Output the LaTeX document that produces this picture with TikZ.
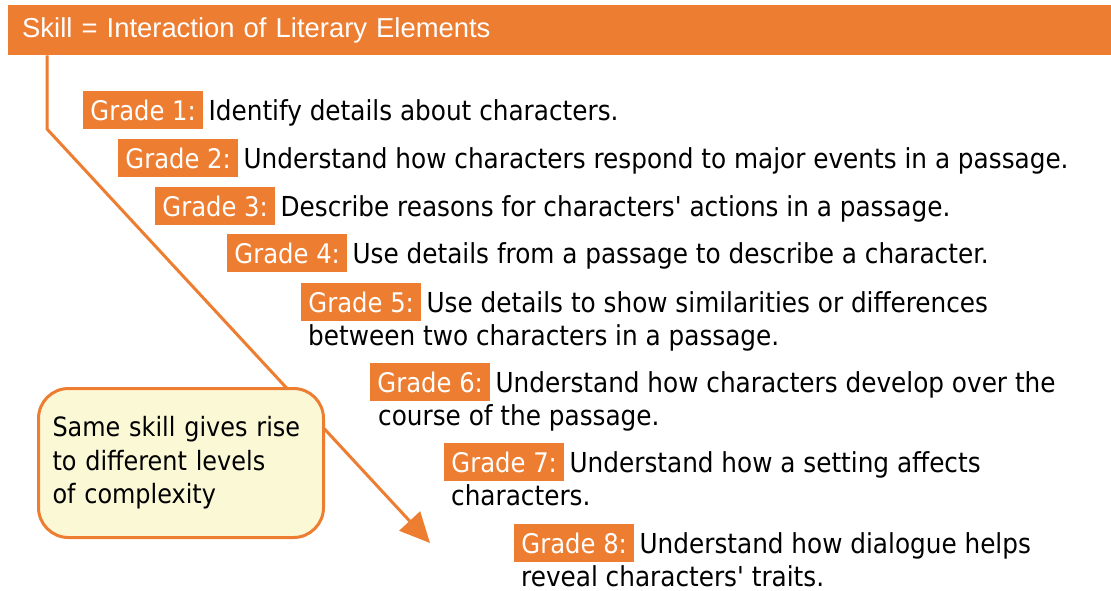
\documentclass[tikz,border=0pt]{standalone}
\usepackage{fontspec}
\setmainfont{DejaVu Sans Condensed}[Ligatures=TeXOff]
\newfontfamily\arialf{Liberation Sans}
\usetikzlibrary{arrows.meta}
\definecolor{org}{HTML}{ED7D31}
\definecolor{cream}{HTML}{FBF8D6}
\begin{document}
\begin{tikzpicture}[x=1pt,y=-1pt,
  gradebox/.style={fill=org, text=white, minimum width=120pt, minimum height=38pt,
    inner sep=0pt, anchor=north west, font=\fontsize{27}{30}\selectfont},
  desc/.style={anchor=base west, inner sep=0pt, font=\fontsize{27.5}{30}\selectfont},
  pointer/.style={draw=org, line width=3pt, line join=miter},
  callout/.style={draw=org, line width=3pt, fill=cream, rounded corners=30pt,
    minimum width=285pt, minimum height=149pt, anchor=north west,
    text width=257pt, inner xsep=14pt, align=left,
    font=\fontsize{26.6}{33.5}\selectfont}]
\useasboundingbox (0,0) rectangle (1111,590);
\node[fill=org, text=white, anchor=north west, minimum height=50pt,
  text width=1075pt, inner xsep=14pt, inner ysep=0pt, align=left,
  font=\arialf\fontsize{27.4}{30}\selectfont] (header) at (8,5)
  {Skill = Interaction of Literary Elements};
\coordinate (start) at ([xshift=39pt]header.south west);
\coordinate (bend) at (47,129);
\coordinate (tip) at (430,543);
\draw[pointer, -{Triangle[length=30pt,width=28pt]}] (start) -- (bend) -- (tip);
\node[callout] (note) at (37,387)
  {Same skill gives rise\\to different levels\\of complexity};

\node[gradebox] (g1) at (83,91) {Grade 1:};
\node[desc] (d1) at ([xshift=5pt]g1.base east) {Identify details about characters.};
\node[gradebox] (g2) at (118,139) {Grade 2:};
\node[desc] (d2) at ([xshift=5pt]g2.base east) {Understand how characters respond to major events in a passage.};
\node[gradebox] (g3) at (155,187) {Grade 3:};
\node[desc] (d3) at ([xshift=5pt]g3.base east) {Describe reasons for characters' actions in a passage.};
\node[gradebox] (g4) at (227,234) {Grade 4:};
\node[desc] (d4) at ([xshift=5pt]g4.base east) {Use details from a passage to describe a character.};
\node[gradebox] (g5) at (301,283) {Grade 5:};
\node[desc] (d5) at ([xshift=5pt]g5.base east) {Use details to show similarities or differences};
\node[desc] (d5b) at ([xshift=7pt,yshift=-33pt]g5.base west) {between two characters in a passage.};
\node[gradebox] (g6) at (370,363) {Grade 6:};
\node[desc] (d6) at ([xshift=5pt]g6.base east) {Understand how characters develop over the};
\node[desc] (d6b) at ([xshift=8pt,yshift=-33pt]g6.base west) {course of the passage.};
\node[gradebox] (g7) at (444,443) {Grade 7:};
\node[desc] (d7) at ([xshift=5pt]g7.base east) {Understand how a setting affects};
\node[desc] (d7b) at ([xshift=7pt,yshift=-33pt]g7.base west) {characters.};
\node[gradebox] (g8) at (514,524) {Grade 8:};
\node[desc] (d8) at ([xshift=5pt]g8.base east) {Understand how dialogue helps};
\node[desc, text depth=0pt] (d8b) at ([xshift=7pt,yshift=-33pt]g8.base west) {reveal characters' traits.};
\end{tikzpicture}
\end{document}
